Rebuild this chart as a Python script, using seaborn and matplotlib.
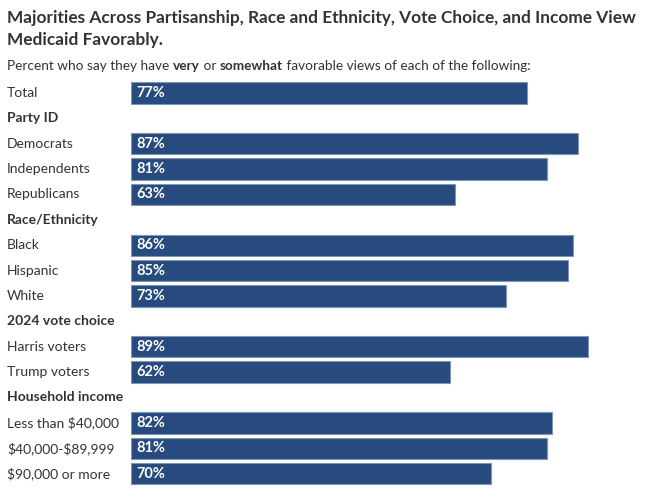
import pandas as pd
import matplotlib.pyplot as plt
import seaborn as sns
from matplotlib.transforms import blended_transform_factory

# Rows of the chart, top to bottom; headers have no bar
rows = ['Total', 'Party ID', 'Democrats', 'Independents', 'Republicans',
        'Race/Ethnicity', 'Black', 'Hispanic', 'White',
        '2024 vote choice', 'Harris voters', 'Trump voters',
        'Household income', 'Less than $40,000', '$40,000-$89,999', '$90,000 or more']
headers = ['Party ID', 'Race/Ethnicity', '2024 vote choice', 'Household income']

bar_labels = ['Total', 'Democrats', 'Independents', 'Republicans', 'Black', 'Hispanic', 'White',
              'Harris voters', 'Trump voters', 'Less than $40,000', '$40,000-$89,999', '$90,000 or more']
bar_values = [77, 87, 81, 63, 86, 85, 73, 89, 62, 82, 81, 70]

df = pd.DataFrame({'label': bar_labels, 'pct': bar_values})

sns.set_style('white')
plt.rcParams['font.family'] = ['Lato', 'DejaVu Sans']

fig = plt.figure(figsize=(6.5, 5.01), dpi=100)
ax = fig.add_axes([131 / 650, 1 - 486.3 / 501, 514 / 650, (486.3 - 80.3) / 501])

sns.barplot(data=df, x='pct', y='label', order=rows, orient='h', color='#274b7f',
            saturation=1, width=0.84, edgecolor='#7f95b8', linewidth=0.8, ax=ax)

ax.set_xlim(0, 100)
ax.set_ylim(len(rows) - 0.5, -0.5)
ax.axis('off')

# Row labels at the left edge of the figure
trans = blended_transform_factory(fig.transFigure, ax.transData)
for i, name in enumerate(rows):
    bold = name in headers
    ax.text(7 / 650, i, name, transform=trans, ha='left', va='center', parse_math=False,
            fontsize=10, color='#333333', fontweight='bold' if bold else 'normal')

# Value labels inside the bars
for name, val in zip(bar_labels, bar_values):
    ax.text(1, rows.index(name), f'{val}%', ha='left', va='center',
            fontsize=10.5, color='white', fontweight='bold')

# Title
fig.text(7 / 650, 1 - 29 / 501,
         'Majorities Across Partisanship, Race and Ethnicity, Vote Choice, and Income View\nMedicaid Favorably.',
         ha='left', va='center', fontsize=12.4, fontweight='bold', color='#333333', linespacing=1.4)

# Subtitle with bold words, placed piece by piece
renderer = fig.canvas.get_renderer()
parts = [('Percent who say they have ', 'normal'), ('very', 'bold'), (' or ', 'normal'),
         ('somewhat', 'bold'), (' favorable views of each of the following:', 'normal')]
x = 7 / 650
for txt, w in parts:
    t = fig.text(x, 1 - 66 / 501, txt, ha='left', va='center', fontsize=9.8,
                 color='#333333', fontweight=w)
    bb = t.get_window_extent(renderer=renderer)
    x += bb.width / fig.bbox.width

fig.savefig('out.png', dpi=100)
